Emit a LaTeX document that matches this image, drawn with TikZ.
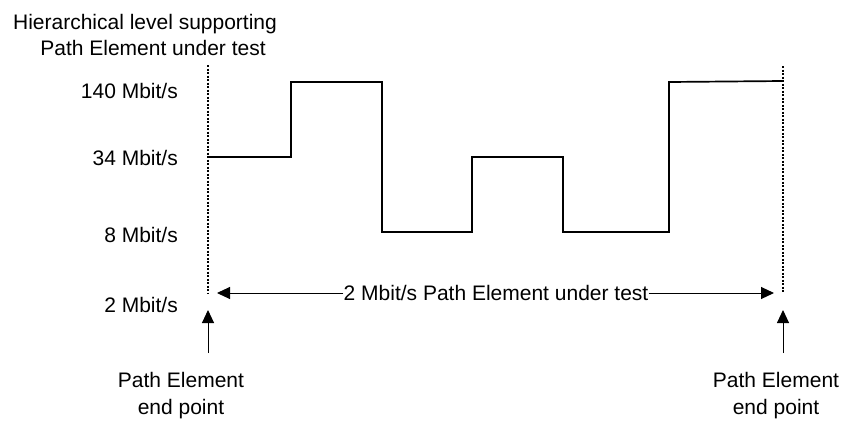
\documentclass[tikz,border=0pt]{standalone}
\usepackage{fontspec}
\setmainfont{Liberation Sans}
\usetikzlibrary{arrows.meta}
\begin{document}
\begin{tikzpicture}[x=1pt,y=-1pt,
  txt/.style={inner sep=0pt,font=\fontsize{21}{25}\selectfont},
  lvl/.style={txt,anchor=east},
  sig/.style={line width=1.7pt,line join=miter},
  dotline/.style={line width=2.4pt,dash pattern=on 2pt off 1.5pt},
  arr/.style={line width=1pt,-{Triangle[length=13pt,width=12pt]}}]
\useasboundingbox (0,0) rectangle (843,421);
% title
\node[txt] (t1) at (145,24) {Hierarchical level supporting};
\node[txt] (t2) at (153,48) {Path Element under test};
% level labels
\node[lvl] (l140) at (178,91) {140 Mbit/s};
\node[lvl] (l34) at (178,158) {34 Mbit/s};
\node[lvl] (l8) at (178,235) {8 Mbit/s};
\node[lvl] (l2) at (178,305) {2 Mbit/s};
% dotted boundaries
\coordinate (lt) at (208,65);
\coordinate (lb) at (208,293);
\coordinate (rt) at (783,66);
\coordinate (rb) at (783,293);
\draw[dotline] (lt) -- (lb);
\draw[dotline] (rt) -- (rb);
% step signal
\draw[sig] (208,157) -- (291,157) -- (291,82) -- (382,82) -- (382,232)
  -- (472,232) -- (472,157) -- (563,157) -- (563,232) -- (669,232)
  -- (669,82) -- (783,81);
% horizontal span arrow
\node[txt] (span) at (496,293) {2 Mbit/s Path Element under test};
\coordinate (al) at (217,293);
\coordinate (ar) at (774,293);
\draw[arr] (span.west) -- (al);
\draw[arr] (span.east) -- (ar);
% end point labels
\node[txt,align=center] (pl) at (181,396) {Path Element\\[2pt]end point};
\node[txt,align=center] (pr) at (776,396) {Path Element\\[2pt]end point};
\coordinate (ul) at (208,353);
\coordinate (ult) at (208,310);
\coordinate (ur) at (783,353);
\coordinate (urt) at (783,310);
\draw[arr] (ul) -- (ult);
\draw[arr] (ur) -- (urt);
\end{tikzpicture}
\end{document}
